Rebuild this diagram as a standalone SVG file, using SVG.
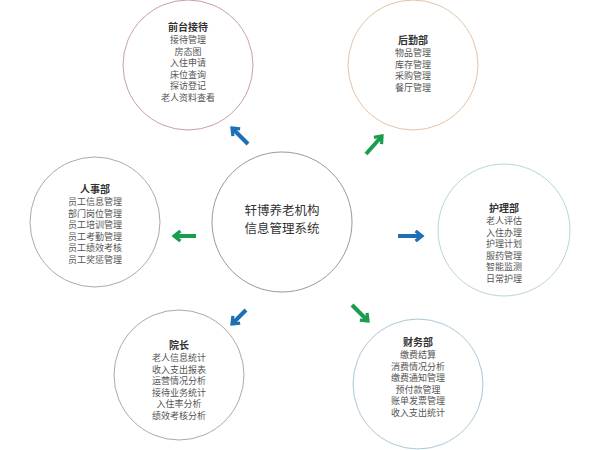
<svg xmlns="http://www.w3.org/2000/svg" width="600" height="450" viewBox="0 0 600 450">
<style>
text{font-family:"Noto Sans CJK SC","Liberation Serif",sans-serif;text-anchor:middle;fill:#555;font-size:9px}
.t{font-weight:bold;fill:#333;font-size:10px}
.c{font-size:12.5px;fill:#333}
circle{fill:#fff;stroke-width:1}
.ab{stroke:#1f6fb5;stroke-width:4;fill:none}
.ag{stroke:#1a9e4e;stroke-width:4;fill:none}
</style>
<defs>
<marker id="mb" viewBox="0 0 10 10" refX="6" refY="5" markerWidth="3.2" markerHeight="3.2" orient="auto"><path d="M1,1 L6,5 L1,9" fill="none" stroke="#1f6fb5" stroke-width="2.5"/></marker>
<marker id="mg" viewBox="0 0 10 10" refX="6" refY="5" markerWidth="3.2" markerHeight="3.2" orient="auto"><path d="M1,1 L6,5 L1,9" fill="none" stroke="#1a9e4e" stroke-width="2.5"/></marker>
</defs>
<rect width="600" height="450" fill="#fff"/>
<g id="connectors">
<line class="ab" x1="248" y1="144" x2="232" y2="128" marker-end="url(#mb)"/>
<line class="ag" x1="366" y1="154" x2="382" y2="136" marker-end="url(#mg)"/>
<line class="ag" x1="196" y1="236" x2="174" y2="236" marker-end="url(#mg)"/>
<line class="ab" x1="398" y1="236" x2="422" y2="236" marker-end="url(#mb)"/>
<line class="ab" x1="246" y1="310" x2="232" y2="324" marker-end="url(#mb)"/>
<line class="ag" x1="352" y1="305" x2="368" y2="321" marker-end="url(#mg)"/>
</g>
<g id="center"><circle cx="282" cy="222" r="70" stroke="#999"/>
<text class="c" x="282" y="215">轩博养老机构</text><text class="c" x="282" y="233">信息管理系统</text></g>
<g id="qiantai"><circle cx="188" cy="65" r="65" stroke="#c9a0a2"/>
<text class="t" x="188" y="31">前台接待</text>
<text x="188" y="43">接待管理</text><text x="188" y="54.5">房态图</text><text x="188" y="66">入住申请</text><text x="188" y="77.5">床位查询</text><text x="188" y="89">探访登记</text><text x="188" y="100.5">老人资料查看</text></g>
<g id="houqin"><circle cx="413" cy="65" r="65" stroke="#e5c3a5"/>
<text class="t" x="413" y="44">后勤部</text>
<text x="413" y="56">物品管理</text><text x="413" y="67.5">库存管理</text><text x="413" y="79">采购管理</text><text x="413" y="90.5">餐厅管理</text></g>
<g id="renshi"><circle cx="95" cy="222" r="65" stroke="#aaa"/>
<text class="t" x="95" y="193">人事部</text>
<text x="95" y="205">员工信息管理</text><text x="95" y="216.5">部门岗位管理</text><text x="95" y="228">员工培训管理</text><text x="95" y="239.5">员工考勤管理</text><text x="95" y="251">员工绩效考核</text><text x="95" y="262.5">员工奖惩管理</text></g>
<g id="huli"><circle cx="504" cy="230" r="66" stroke="#b5d8cf"/>
<text class="t" x="504" y="212">护理部</text>
<text x="504" y="224">老人评估</text><text x="504" y="235.5">入住办理</text><text x="504" y="247">护理计划</text><text x="504" y="258.5">服药管理</text><text x="504" y="270">智能监测</text><text x="504" y="281.5">日常护理</text></g>
<g id="yuanzhang"><circle cx="179" cy="375" r="65" stroke="#aaa"/>
<text class="t" x="179" y="349">院长</text>
<text x="179" y="361">老人信息统计</text><text x="179" y="372.5">收入支出报表</text><text x="179" y="384">运营情况分析</text><text x="179" y="395.5">接待业务统计</text><text x="179" y="407">入住率分析</text><text x="179" y="418.5">绩效考核分析</text></g>
<g id="caiwu"><circle cx="418" cy="384" r="65" stroke="#a9c9d6"/>
<text class="t" x="418" y="346">财务部</text>
<text x="418" y="358">缴费结算</text><text x="418" y="369.5">消费情况分析</text><text x="418" y="381">缴费通知管理</text><text x="418" y="392.5">预付款管理</text><text x="418" y="404">账单发票管理</text><text x="418" y="415.5">收入支出统计</text></g>
</svg>
